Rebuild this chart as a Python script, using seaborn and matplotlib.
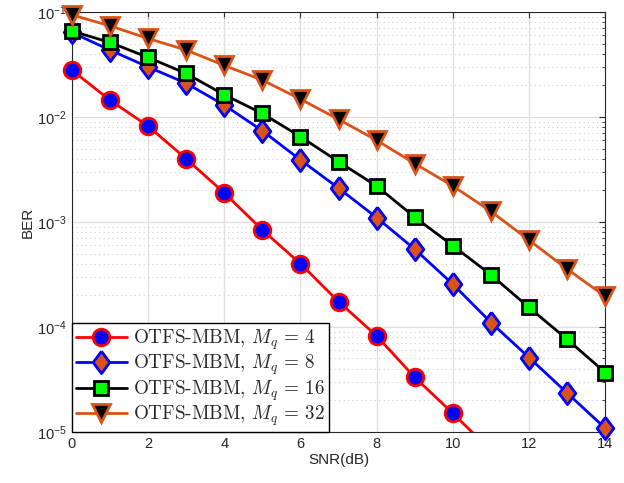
import numpy as np
import pandas as pd
import seaborn as sns
import matplotlib.pyplot as plt
from matplotlib.lines import Line2D
from matplotlib.ticker import LogLocator, NullFormatter, MultipleLocator

snr = list(range(15))
ber_m4 = [0.028, 0.0145, 0.0082, 0.0040, 0.00189, 8.4e-4, 4.0e-4, 1.74e-4,
          8.2e-5, 3.3e-5, 1.5e-5, 6.6e-6]
ber_m8 = [0.064, 0.0435, 0.030, 0.021, 0.013, 0.0074, 0.0039, 0.0021,
          0.0011, 5.5e-4, 2.55e-4, 1.1e-4, 5.1e-5, 2.34e-5, 1.08e-5]
ber_m16 = [0.066, 0.0514, 0.037, 0.026, 0.0163, 0.0108, 0.0065, 0.00375,
           0.0022, 0.00111, 5.94e-4, 3.13e-4, 1.53e-4, 7.6e-5, 3.67e-5]
ber_m32 = [0.094, 0.074, 0.056, 0.0435, 0.031, 0.0225, 0.0148, 0.0095,
           0.0060, 0.0036, 0.0022, 0.00126, 6.7e-4, 3.55e-4, 1.95e-4]
labels = [r"OTFS-MBM, $M_q\,=\,4$", r"OTFS-MBM, $M_q\,=\,8$",
          r"OTFS-MBM, $M_q\,=\,16$", r"OTFS-MBM, $M_q\,=\,32$"]

orange = "#D95319"
diamond = [(0, 1), (0.75, 0), (0, -1), (-0.75, 0), (0, 1)]
styles = [
    dict(color="red", marker="o", mfc="blue", mec="red", ms=12),
    dict(color="blue", marker=diamond, mfc=orange, mec="blue", ms=16),
    dict(color="black", marker="s", mfc="#00FF00", mec="black", ms=10),
    dict(color=orange, marker="v", mfc="black", mec=orange, ms=13),
]

sns.set_style("whitegrid")
plt.rcParams["font.family"] = ["Liberation Sans", "DejaVu Sans"]
plt.rcParams["mathtext.fontset"] = "dejavusans"

fig = plt.figure(figsize=(6.24, 4.83), dpi=100)
ax = fig.add_axes([0.115, 0.106, 0.855, 0.869])

ymin, ymax = 1e-5, 1e-1
handles = []
for ber, lab, st in zip([ber_m4, ber_m8, ber_m16, ber_m32], labels, styles):
    df = pd.DataFrame({"SNR": snr[:len(ber)], "BER": ber})
    # line, clipped to the axes
    sns.lineplot(data=df, x="SNR", y="BER", ax=ax, color=st["color"],
                 linewidth=2, legend=False)
    # markers inside the y range, not clipped at the box edges
    dm = df[(df["BER"] >= ymin) & (df["BER"] <= ymax)]
    sns.lineplot(data=dm, x="SNR", y="BER", ax=ax, linestyle="none",
                 marker=st["marker"], markerfacecolor=st["mfc"],
                 markeredgecolor=st["mec"], markersize=st["ms"],
                 markeredgewidth=2, clip_on=False, legend=False, zorder=3)
    handles.append(Line2D([], [], color=st["color"], linewidth=2,
                          marker=st["marker"], markerfacecolor=st["mfc"],
                          markeredgecolor=st["mec"], markersize=st["ms"],
                          markeredgewidth=2, label=lab))

ax.set_yscale("log")
ax.set_xlim(0, 14)
ax.set_ylim(ymin, ymax)
ax.xaxis.set_major_locator(MultipleLocator(2))
ax.yaxis.set_major_locator(LogLocator(base=10, numticks=10))
ax.yaxis.set_minor_locator(LogLocator(base=10, subs=np.arange(2, 10), numticks=20))
ax.yaxis.set_minor_formatter(NullFormatter())

ax.set_facecolor("white")
ax.grid(True, which="major", color="#dedede", linewidth=0.9, linestyle="-")
ax.grid(True, which="minor", axis="y", color="#cfcfcf", linewidth=0.8, linestyle=(0, (1, 3)))
ax.grid(False, which="minor", axis="x")
for sp in ax.spines.values():
    sp.set_color("#262626")
    sp.set_linewidth(0.8)
ax.tick_params(which="both", direction="in", top=True, right=True,
               labelsize=10.5, color="#262626", length=4)
ax.tick_params(which="minor", length=2.5)
ax.set_xlabel("SNR(dB)", fontsize=11, color="#262626", labelpad=2)
ax.set_ylabel("BER", fontsize=11, color="#262626", labelpad=2)

leg = ax.legend(handles=handles, loc="lower left", fontsize=13.8, frameon=True,
                fancybox=False, edgecolor="black", framealpha=1,
                handlelength=2.7, borderaxespad=0, borderpad=0.2,
                labelspacing=0.05, handletextpad=0.3)
leg.get_frame().set_linewidth(1.0)
leg.set_zorder(5)
for t in leg.get_texts():
    t.set_family("cmr10")
    t.set_math_fontfamily("cm")

fig.savefig("out.png", dpi=100)
